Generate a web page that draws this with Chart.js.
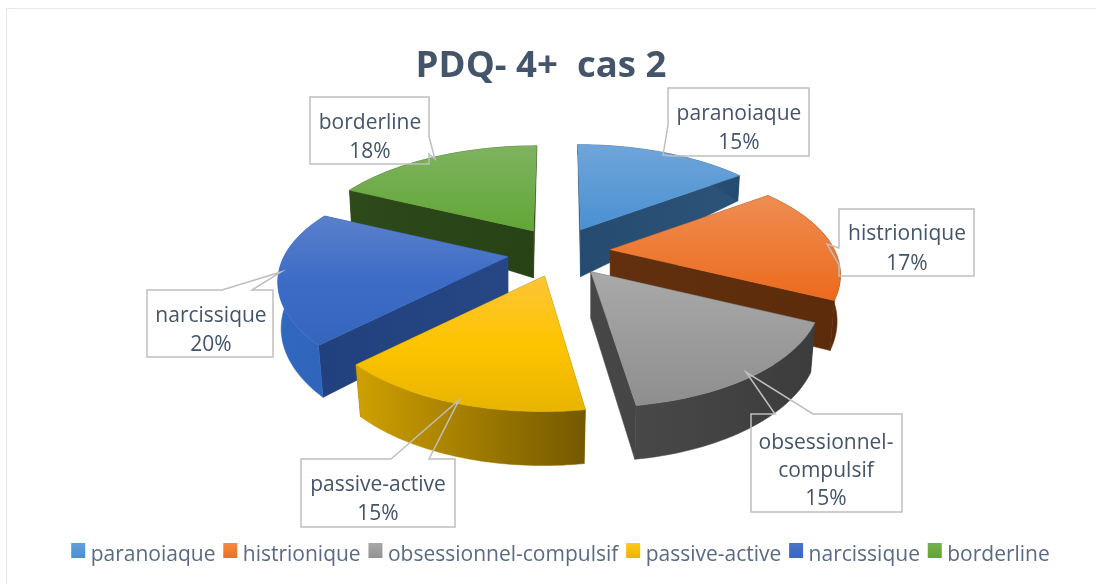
<!DOCTYPE html>
<html>
<head>
<meta charset="utf-8">
<style>html,body{margin:0;padding:0;background:#fff}#wrap{width:1096px;height:584px}</style>
<script src="https://cdn.jsdelivr.net/npm/chart.js@4"></script>
</head>
<body>
<div id="wrap"><canvas id="c" width="1096" height="584"></canvas></div>
<script>
const categories = ['paranoiaque','histrionique','obsessionnel-compulsif','passive-active','narcissique','borderline'];
const percents = [15,17,15,15,20,18];
const legendColors = ['#5b9bd5','#ed7d31','#a5a5a5','#ffc000','#4472c4','#70ad47'];
const titleText = 'PDQ- 4+  cas 2';

const view = {cx:559, cy:252, rx:224, ry:104.5, k:0.229, explodeX:52, explodeY:25, warp:2.5*Math.PI/180, warpAt:Math.PI, warpWidth:60*Math.PI/180};
const drawOrder = [0,5,1,4,2,3];
const faces = [
  {top:['#6fa5da','#4a90d2'], radial:['#264b70','#2c5379'], outer:['#2c5379','#264b70'], key:['#5fa0dc','#4a8fce']},
  {top:['#ee8d52','#ec6a1c'], radial:['#62300f','#5c2c0a'], outer:['#6a3510','#5a2a08'], key:['#f38a42','#ec6f20']},
  {top:['#a9a9a9','#8e8e8e'], radial:['#474747','#3e3e3e'], outer:['#4b4b4b','#3c3c3c'], key:['#a8a8a8','#929292']},
  {top:['#fcc537','#fdc400','#e8b400'], radial:['#7a5e00','#7a5e00'], outer:['#cfa000','#745900'], key:['#ffc81a','#eab500']},
  {top:['#5a80cc','#3d6cc6','#3465bc'], radial:['#1f3f7d','#264684'], outer:['#3169c0','#2552a0'], key:['#4a74ca','#3868c0']},
  {top:['#7eb35f','#62a636'], radial:['#2d4a1b','#284215'], outer:['#2d4a1b','#284215'], key:['#74b04e','#62a436']}
];
const callouts = [
  {lines:['paranoiaque','15%'], tx:739, ty:[114,143], poly:[[668,88],[809,88],[809,156],[672,156],[663,155],[668,125]]},
  {lines:['histrionique','17%'], tx:907, ty:[234,264], poly:[[839,209],[974,209],[974,276],[839,276],[839,265],[827,244],[839,248]]},
  {lines:['obsessionnel-','compulsif','15%'], tx:826, ty:[443,471,499], poly:[[751,414],[775,414],[746,372],[813,414],[902,414],[902,512],[751,512]]},
  {lines:['passive-active','15%'], tx:378, ty:[485,514], poly:[[301,459],[391,459],[459,400],[429,459],[455,459],[455,527],[301,527]]},
  {lines:['narcissique','20%'], tx:211, ty:[316,345], poly:[[147,290],[222,290],[281,272],[252,290],[273,290],[273,357],[147,357]]},
  {lines:['borderline','18%'], tx:370, ty:[123,152], poly:[[310,97],[429,97],[429,137],[435,159],[429,154],[429,164],[310,164]]}
];
const textColor = '#44546a';
const labelFont = '21px "Open Sans"';

function depthAt(yd){ return yd < 0 ? 47 + 37*yd : 47 + 7*yd; }
function warped(t){ const d = (t-view.warpAt)/view.warpWidth; return t + view.warp*Math.exp(-d*d); }
function project(apex, theta, bottom){
  const t = warped(theta);
  const X = Math.sin(t), Yd = -Math.cos(t), w = 1 - view.k*Yd;
  let px = view.rx*X/w;
  const py = view.ry*Yd/w;
  if(Yd < 0) px += (view.cx-apex[0])*Yd*Yd*0.125;
  else px += (apex[0]-view.cx)*Yd*Yd*Yd*Yd*0.1;
  return bottom
    ? [apex[0] + px*(0.99-0.02*Math.max(Yd,0)), apex[1] + py + depthAt(Yd)]
    : [apex[0] + px, apex[1] + py];
}
function gradient(ctx, x0, y0, x1, y1, stops){
  const g = ctx.createLinearGradient(x0, y0, x1, y1);
  stops.forEach((s,i)=>g.addColorStop(i/(stops.length-1), s));
  return g;
}
function poly(ctx, pts, fill){
  ctx.beginPath();
  pts.forEach((p,i)=> i ? ctx.lineTo(p[0],p[1]) : ctx.moveTo(p[0],p[1]));
  ctx.closePath();
  ctx.fillStyle = fill; ctx.strokeStyle = fill; ctx.lineWidth = 0.5;
  ctx.fill(); ctx.stroke();
}
function drawSlice(ctx, arc, face){
  const a0 = arc.startAngle + Math.PI/2, a1 = arc.endAngle + Math.PI/2, mid = (a0+a1)/2;
  const midYd = -Math.cos(mid);
  const lean = midYd < 0 ? 1 + 0.1*midYd : 1;
  const apex = [view.cx + view.explodeX*Math.sin(mid)*lean, view.cy + view.explodeY*midYd];
  const apexB = [apex[0], apex[1] + depthAt(0)];
  const N = 48, topArc = [], botArc = [];
  for(let i=0;i<=N;i++){
    const t = a0 + (a1-a0)*i/N;
    topArc.push(project(apex,t,false));
    botArc.push(project(apex,t,true));
  }
  const xs = topArc.map(p=>p[0]).concat(apex[0]), ys = topArc.map(p=>p[1]).concat(apex[1]);
  const minX = Math.min(...xs), maxX = Math.max(...xs), minY = Math.min(...ys), maxY = Math.max(...ys);
  poly(ctx,[apex,topArc[0],botArc[0],apexB], gradient(ctx,minX,0,maxX,0,face.radial));
  poly(ctx,[apex,topArc[N],botArc[N],apexB], gradient(ctx,minX,0,maxX,0,face.radial));
  poly(ctx,topArc.concat(botArc.slice().reverse()), gradient(ctx,minX,0,maxX,0,face.outer));
  poly(ctx,[apex].concat(topArc), gradient(ctx,0,minY,0,maxY,face.top));
}
const legendShift = 10, keyOffset = 5, keyTop = 543, keySize = 15;
const pie3d = {
  id:'pie3d',
  afterLayout(chart){
    const t = chart.titleBlock, l = chart.legend;
    t.left -= 7; t.right -= 7;
    l.left += legendShift; l.right += legendShift;
    const dy = 542 - l.top; l.top += dy; l.bottom += dy;
  },
  beforeDraw(chart){
    const ctx = chart.ctx;
    ctx.save();
    ctx.strokeStyle = '#e6e9f0'; ctx.lineWidth = 1;
    ctx.beginPath(); ctx.moveTo(6.5,584); ctx.lineTo(6.5,8.5); ctx.lineTo(1096,8.5); ctx.stroke();
    ctx.restore();
  },
  beforeDatasetsDraw(chart){
    const ctx = chart.ctx, arcs = chart.getDatasetMeta(0).data;
    ctx.save();
    drawOrder.forEach(i=>drawSlice(ctx, arcs[i], faces[i]));
    ctx.lineJoin = 'miter';
    callouts.forEach(c=>{
      ctx.beginPath();
      c.poly.forEach((p,i)=> i ? ctx.lineTo(p[0],p[1]) : ctx.moveTo(p[0],p[1]));
      ctx.closePath();
      ctx.strokeStyle = '#bfbfbf'; ctx.lineWidth = 1.5; ctx.stroke();
      ctx.fillStyle = textColor; ctx.font = labelFont;
      ctx.textAlign = 'center'; ctx.textBaseline = 'middle';
      c.lines.forEach((s,j)=>ctx.fillText(s, c.tx, c.ty[j]));
    });
    ctx.restore();
    return false;
  },
  afterDraw(chart){
    const ctx = chart.ctx;
    chart.legend.legendHitBoxes.forEach((h,i)=>{
      const x = h.left + keyOffset;
      ctx.fillStyle = gradient(ctx,0,keyTop,0,keyTop+keySize,faces[i].key);
      ctx.fillRect(x, keyTop, keySize-1, keySize);
    });
  }
};
new Chart(document.getElementById('c'), {
  type:'pie',
  data:{labels:categories, datasets:[{data:percents, backgroundColor:legendColors, borderWidth:0}]},
  options:{
    responsive:false, animation:false, events:[],
    plugins:{
      tooltip:{enabled:false},
      title:{display:true, text:titleText, color:textColor, font:{family:'"Open Sans"', size:36.6, weight:'bold'}, padding:{top:45,bottom:10}},
      legend:{position:'bottom', labels:{boxWidth:14, boxHeight:14, padding:2.8, color:'#5a6a84', font:{family:'"Open Sans"', size:21},
        generateLabels(chart){
          return Chart.overrides.pie.plugins.legend.labels.generateLabels(chart).map(o=>Object.assign(o,{fillStyle:'rgba(0,0,0,0)',strokeStyle:'rgba(0,0,0,0)',lineWidth:0}));
        }}}
    }
  },
  plugins:[pie3d]
});
</script>
</body>
</html>
